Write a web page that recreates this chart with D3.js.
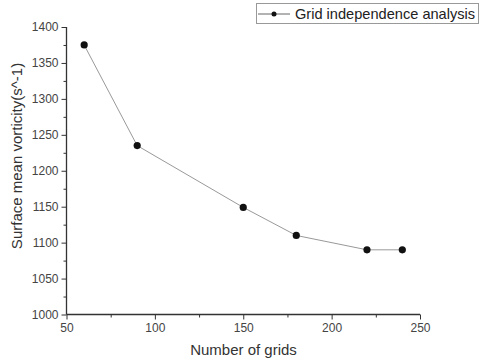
<!DOCTYPE html>
<html><head><meta charset="utf-8">
<script src="https://cdn.jsdelivr.net/npm/d3@7"></script>
<style>body{margin:0;background:#fff;} svg{display:block;font-family:"Liberation Sans",Arial,sans-serif;}</style>
</head><body>
<script>
const grids = [60, 90, 150, 180, 220, 240];
const vorticity = [1375, 1235, 1149, 1110, 1090, 1090];
const xTicks = [50, 100, 150, 200, 250];
const yTicks = [1000, 1050, 1100, 1150, 1200, 1250, 1300, 1350, 1400];
const seriesName = "Grid independence analysis";
const xTitle = "Number of grids";
const yTitle = "Surface mean vorticity(s^-1)";

const W = 483, H = 361;
const svg = d3.select("body").append("svg").attr("width", W).attr("height", H);
const x = d3.scaleLinear().domain([50, 250]).range([66.5, 420]);
const y = d3.scaleLinear().domain([1000, 1400]).range([314.5, 27]);

const axisColor = "#333";
const xMinor = d3.range(75, 250, 50);
const yMinor = d3.range(1025, 1400, 50);

const gx = svg.append("g").attr("transform", `translate(0,${y(1000)})`)
  .call(d3.axisBottom(x).tickValues(xTicks).tickSize(5).tickPadding(4).tickFormat(d3.format("d")));
const gxm = svg.append("g").attr("transform", `translate(0,${y(1000)})`)
  .call(d3.axisBottom(x).tickValues(xMinor).tickSize(3).tickFormat(""));
gxm.select(".domain").remove();
const gy = svg.append("g").attr("transform", `translate(${x(50)},0)`)
  .call(d3.axisLeft(y).tickValues(yTicks).tickSize(5).tickPadding(3).tickFormat(d3.format("d")));
const gym = svg.append("g").attr("transform", `translate(${x(50)},0)`)
  .call(d3.axisLeft(y).tickValues(yMinor).tickSize(3).tickFormat(""));
gym.select(".domain").remove();

svg.selectAll(".domain").attr("stroke", axisColor).attr("stroke-width", 1.3);
svg.selectAll(".tick line").attr("stroke", axisColor).attr("stroke-width", 1);
svg.selectAll(".tick text").attr("fill", "#444").attr("font-size", 12).attr("font-family", "Liberation Sans, Arial, sans-serif");
gx.select(".domain").attr("d", `M${x(50)},0H${x(250)}`);
gy.select(".domain").attr("d", `M0,${y(1000)}V${y(1400)}`);

const pts = grids.map((g, i) => [g, vorticity[i]]);
svg.append("path").datum(pts)
  .attr("fill", "none").attr("stroke", "#999").attr("stroke-width", 1)
  .attr("d", d3.line().x(d => x(d[0])).y(d => y(d[1])));
svg.selectAll("circle.pt").data(pts).enter().append("circle")
  .attr("class", "pt").attr("cx", d => x(d[0])).attr("cy", d => y(d[1]))
  .attr("r", 3.6).attr("fill", "#111");

svg.append("text").attr("x", 243.5).attr("y", 355).attr("text-anchor", "middle")
  .attr("font-size", 15).attr("fill", "#333").text(xTitle);
svg.append("text").attr("transform", `translate(22,156) rotate(-90)`).attr("text-anchor", "middle")
  .attr("font-size", 15).attr("fill", "#333").text(yTitle);

const lg = svg.append("g");
lg.append("rect").attr("x", 256.5).attr("y", 3.5).attr("width", 222).attr("height", 20)
  .attr("fill", "#fff").attr("stroke", "#999").attr("stroke-width", 1);
lg.append("line").attr("x1", 258).attr("x2", 290).attr("y1", 14).attr("y2", 14)
  .attr("stroke", "#666").attr("stroke-width", 1);
lg.append("circle").attr("cx", 274).attr("cy", 14).attr("r", 2.5).attr("fill", "#111");
lg.append("text").attr("x", 295).attr("y", 19).attr("font-size", 14.6).attr("fill", "#222").text(seriesName);
</script>
</body></html>
